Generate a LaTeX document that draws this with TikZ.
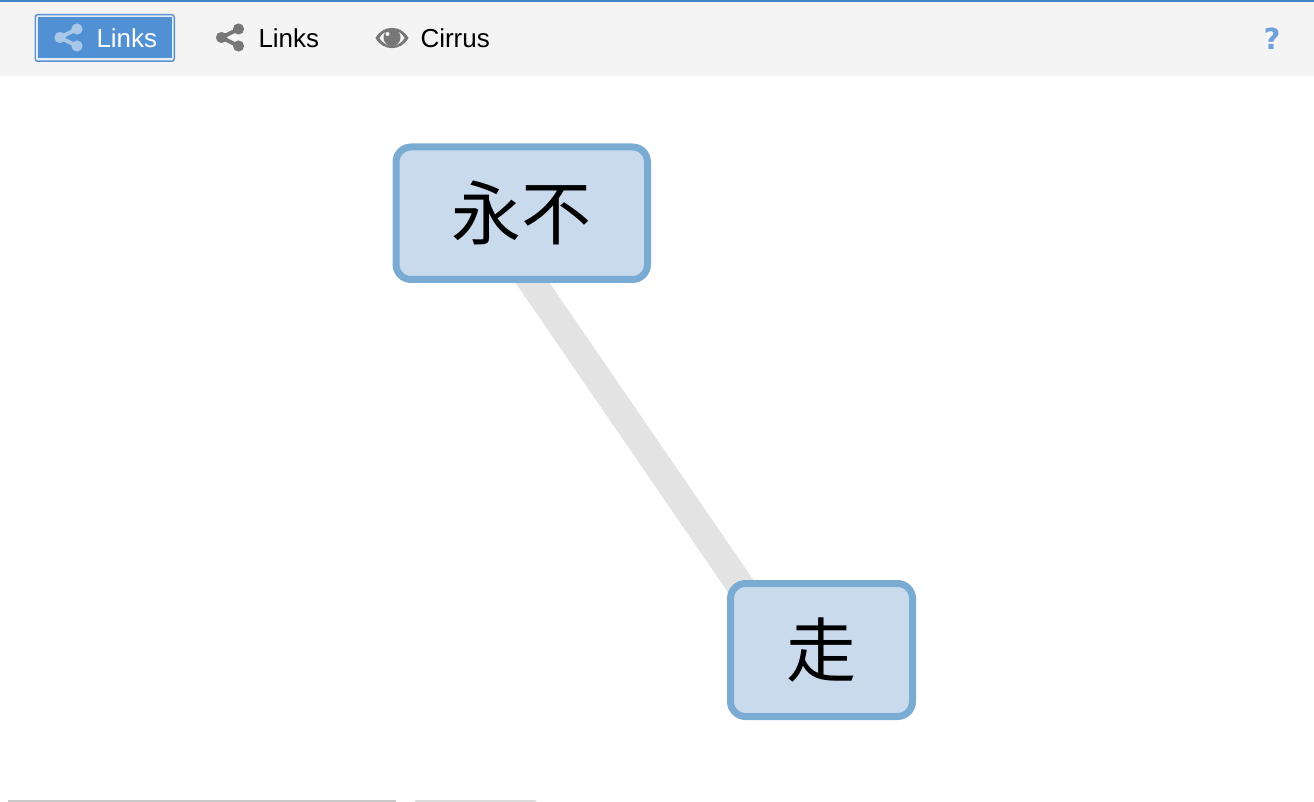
\documentclass[tikz,border=0pt]{standalone}
\usepackage{fontspec}
\setmainfont{Liberation Sans}
\newfontfamily\cjkfont{Noto Sans CJK SC}
\newfontfamily\qfont{DejaVu Sans}
\usetikzlibrary{backgrounds,calc}
\definecolor{topblue}{HTML}{3F80C6}
\definecolor{barbg}{HTML}{F4F4F4}
\definecolor{btnblue}{HTML}{5090D3}
\definecolor{btnicon}{HTML}{A9C8E8}
\definecolor{icongray}{HTML}{777777}
\definecolor{helpblue}{HTML}{6FA0DC}
\definecolor{boxfill}{HTML}{C9DAEC}
\definecolor{boxline}{HTML}{7AACD3}
\definecolor{edgegray}{HTML}{E3E3E3}
\tikzset{
  x=1pt,y=-1pt,
  wordnode/.style={inner sep=0pt,outer sep=0pt,anchor=base west,font=\fontsize{26}{30}\selectfont},
  cjknode/.style={rectangle,rounded corners=15pt,draw=boxline,fill=boxfill,line width=7pt,
    inner sep=0pt,outer sep=0pt,font=\fontsize{70}{80}\selectfont\cjkfont,text=black},
  linkedge/.style={line width=28pt,draw=edgegray,line cap=butt}
}
\newcommand{\shareicon}[3]{%
  \draw[#3,line width=4pt] (#1+17,#2-8.5) -- (#1,#2) -- (#1+17,#2+8.5);
  \fill[#3] (#1,#2) circle[radius=5.6pt] (#1+17,#2-8.5) circle[radius=5.6pt] (#1+17,#2+8.5) circle[radius=5.6pt];
}
\begin{document}
\begin{tikzpicture}
\useasboundingbox (0,0) rectangle (1314,802);
% toolbar
\fill[barbg] (0,0) rectangle (1314,76);
\fill[topblue] (0,0) rectangle (1314,2);
% active button
\fill[topblue!85!white,rounded corners=3pt] (34.5,14) rectangle (175,62);
\fill[white!85!btnblue,rounded corners=2pt] (36,15.5) rectangle (173.5,60.5);
\fill[btnblue] (38,17.5) rectangle (171.5,58.5);
\shareicon{60}{37.5}{btnicon}
\node[wordnode,text=white] (btnlinks) at (96.5,47.5) {Links};
% second button
\shareicon{221.5}{37.5}{icongray}
\node[wordnode,text=black] (toollinks) at (258.5,47.5) {Links};
% eye
\fill[icongray] (375.5,38) .. controls (383,24.5) and (401,24.5) .. (408.5,38) .. controls (401,51.5) and (383,51.5) .. (375.5,38) -- cycle;
\fill[barbg] (379.5,38) .. controls (385,28) and (399,28) .. (404.5,38) .. controls (399,48) and (385,48) .. (379.5,38) -- cycle;
\fill[icongray] (392,37.5) circle[radius=8.5pt];
\fill[barbg] (387.5,34) circle[radius=2pt];
\node[wordnode,text=black] (toolcirrus) at (420.5,47.5) {Cirrus};
% help
\node[inner sep=0pt,text=helpblue,font=\fontsize{29}{32}\selectfont\qfont\bfseries] (help) at (1272,38.5) {?};
% graph
\node[cjknode,minimum width=251.5pt,minimum height=132.5pt] (yongbu) at (521.75,213.25) {永不};
\node[cjknode,minimum width=182pt,minimum height=133pt] (zou) at (821.5,650) {走};
\begin{scope}[on background layer]
\fill[white] (0,76) rectangle (1314,802);
\draw[linkedge] ($(yongbu.center)+(-37,0)$) -- ($(zou.center)+(-37,0)$);
\end{scope}
% bottom cut-off panels
\fill[black!21] (7.5,800) rectangle (396,802);
\fill[black!14,rounded corners=1pt] (416,800) -- (535,800) -- (537,802) -- (414,802) -- cycle;
\end{tikzpicture}
\end{document}
